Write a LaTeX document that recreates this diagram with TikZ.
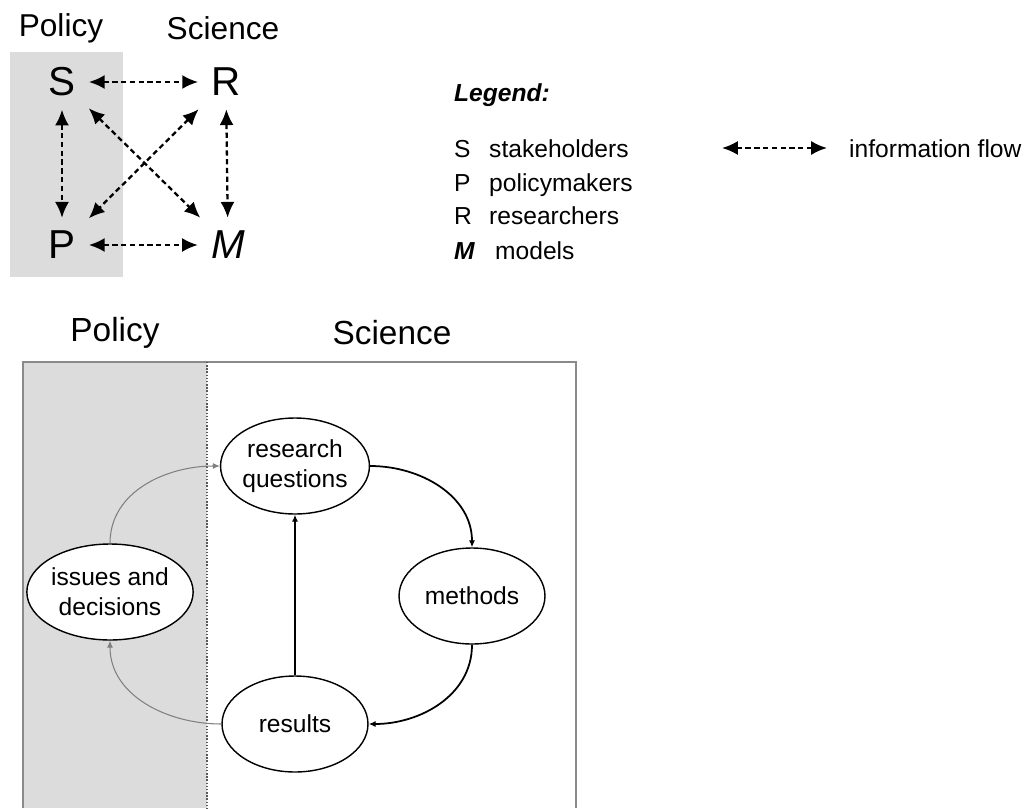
\documentclass[tikz,border=0pt]{standalone}
\usepackage{fontspec}
\setmainfont{Liberation Sans}
\usetikzlibrary{arrows.meta,shapes.geometric}
\definecolor{panelgray}{HTML}{DCDCDC}
\definecolor{boxline}{HTML}{8A8A8A}
\begin{document}
\begin{tikzpicture}[x=0.02cm, y=-0.02cm,
    actor/.style={inner sep=0.26cm, font=\fontsize{23}{27}\selectfont},
    flow/.style={dash pattern=on 3pt off 2pt, line width=1.3pt, {Latex[length=9pt,width=8pt]}-{Latex[length=9pt,width=8pt]}},
    heading/.style={font=\fontsize{18}{21}\selectfont},
    bigheading/.style={font=\fontsize{19}{22}\selectfont},
    legtext/.style={anchor=base west, font=\fontsize{14}{17}\selectfont},
    stage/.style={ellipse, draw, fill=white, line width=0.8pt, minimum width=2.92cm, minimum height=1.92cm, inner sep=0pt, align=center, font=\fontsize{14}{17}\selectfont},
    mainarrow/.style={line width=1pt, -{Latex[length=4pt,width=3.5pt]}},
    backarrow/.style={gray, line width=0.6pt, -{Latex[length=4pt,width=3.5pt]}}]
    \useasboundingbox (0,0) rectangle (1024,808);
    % top panel
    \fill[panelgray] (10,52) rectangle (123,277);
    \node[heading] (pol1) at (61,28) {Policy};
    \node[heading] (sci1) at (223,28) {Science};
    \node[actor] (s) at (62,82) {S};
    \node[actor] (r) at (226,82) {R};
    \node[actor] (p) at (62,245) {P};
    \node[actor] (m) at (228,245) {\textit{M}};
    \draw[flow] (s) -- (r);
    \draw[flow] (s) -- (p);
    \draw[flow] (r) -- (m);
    \draw[flow] (p) -- (m);
    \draw[flow] (s) -- (m);
    \draw[flow] (r) -- (p);
    % legend
    \node[legtext, font=\bfseries\itshape\fontsize{14}{17}\selectfont] (leg) at (448,101) {Legend:};
    \node[legtext] (ls) at (448,157) {S};
    \node[legtext] (lp) at (448,191) {P};
    \node[legtext] (lr) at (448,224) {R};
    \node[legtext] (lm) at (448,259) {\textit{\textbf{M}}};
    \node[legtext] (ws) at (483,157) {stakeholders};
    \node[legtext] (wp) at (483,191) {policymakers};
    \node[legtext] (wr) at (483,224) {researchers};
    \node[legtext] (wm) at (489,259) {models};
    \coordinate (fa) at (722,148);
    \coordinate (fb) at (827,148);
    \draw[flow] (fa) -- (fb);
    \node[legtext] (wf) at (843,157) {information flow};
    % bottom panel
    \fill[panelgray] (23,362) rectangle (207,808);
    \draw[boxline, line width=1pt] (23,808) -- (23,362) -- (576,362) -- (576,808);
    \draw[gray!70!black, densely dotted, line width=0.8pt] (207,362) -- (207,808);
    \node[bigheading] (pol2) at (115,333) {Policy};
    \node[bigheading] (sci2) at (392,333) {Science};
    \node[stage] (rq) at (295,466) {research\\questions};
    \node[stage] (meth) at (472,596) {methods};
    \node[stage] (res) at (295,724) {results};
    \node[stage] (iss) at (110,592) {issues and\\decisions};
    \draw[mainarrow] (rq.east) to[out=0, in=90] (meth.north);
    \draw[mainarrow] (meth.south) to[out=-90, in=0] (res.east);
    \draw[mainarrow] (res.north) -- (rq.south);
    \draw[backarrow] (res.west) to[out=180, in=-90] (iss.south);
    \draw[backarrow] (iss.north) to[out=90, in=180] (rq.west);
\end{tikzpicture}
\end{document}
